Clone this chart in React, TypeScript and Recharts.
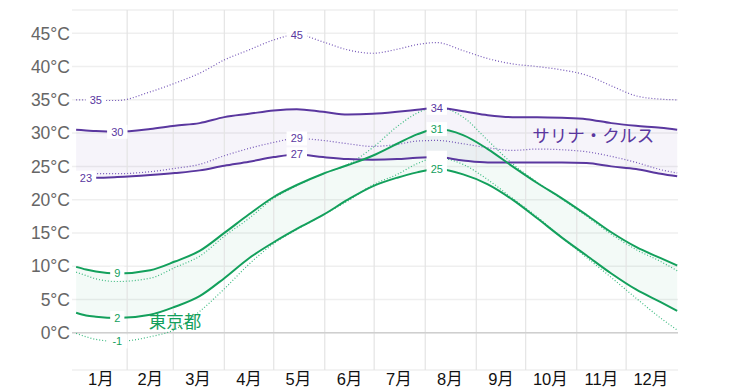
import {
  ComposedChart,
  Area,
  Line,
  XAxis,
  YAxis,
  CartesianGrid,
  ReferenceLine,
  ReferenceDot,
  LabelList,
} from "recharts";

// day of year for each sample
const days = [0, 6, 12, 25, 45, 60, 75, 90, 105, 120, 134, 150, 165, 180, 195, 207, 219, 235, 250, 265, 280, 295, 310, 325, 340, 355, 365];

// サリナ・クルス
const salinaFeelHigh = [35.0, 35.0, 34.9, 34.9, 36.2, 37.5, 39.0, 41.0, 42.5, 44.0, 44.8, 43.7, 42.5, 42.0, 42.6, 43.3, 43.6, 42.4, 41.2, 40.4, 40.0, 39.5, 38.7, 37.1, 35.6, 35.1, 35.0];
const salinaHigh = [30.5, 30.4, 30.3, 30.2, 30.6, 31.1, 31.5, 32.4, 32.9, 33.4, 33.6, 33.2, 32.8, 32.9, 33.2, 33.5, 33.8, 33.3, 32.7, 32.4, 32.4, 32.3, 32.1, 31.5, 31.1, 30.8, 30.5];
const salinaFeelLow = [23.9, 23.9, 23.9, 23.9, 24.2, 24.7, 25.3, 26.6, 27.7, 28.6, 29.2, 28.9, 28.4, 28.0, 28.3, 28.8, 28.9, 28.4, 27.8, 27.4, 27.6, 27.5, 27.2, 26.5, 25.6, 24.5, 24.0];
const salinaLow = [23.4, 23.3, 23.3, 23.4, 23.7, 24.0, 24.4, 25.1, 25.7, 26.4, 26.8, 26.4, 26.1, 26.0, 26.1, 26.3, 26.4, 25.9, 25.6, 25.6, 25.6, 25.6, 25.5, 25.0, 24.6, 23.9, 23.5];

// 東京都
const tokyoFeelHigh = [9.1, 8.6, 8.1, 7.7, 8.2, 9.8, 11.5, 14.5, 17.2, 20.2, 22.1, 23.9, 25.3, 27.8, 31.0, 33.0, 33.9, 32.4, 28.9, 25.4, 22.6, 20.1, 17.5, 14.8, 12.5, 10.7, 9.3];
const tokyoHigh = [9.9, 9.5, 9.2, 8.9, 9.4, 10.7, 12.3, 15.0, 17.8, 20.4, 22.2, 23.9, 25.2, 26.6, 28.4, 29.8, 30.6, 29.7, 27.6, 25.0, 22.5, 20.2, 17.7, 15.1, 12.9, 11.2, 10.1];
const tokyoLow = [3.0, 2.6, 2.4, 2.2, 2.7, 3.9, 5.5, 8.2, 11.2, 13.6, 15.6, 17.7, 20.0, 22.0, 23.3, 24.1, 24.6, 23.8, 22.3, 20.0, 17.2, 14.3, 11.6, 8.9, 6.5, 4.6, 3.3];
const tokyoFeelLow = [-0.1, -0.6, -1.0, -1.3, -0.6, 0.5, 3.2, 6.6, 10.3, 13.4, 15.5, 17.7, 19.8, 22.2, 23.8, 25.4, 26.3, 25.3, 23.0, 20.2, 17.4, 14.3, 11.3, 8.3, 5.2, 2.2, 0.4];

const monthLabels = ["1月", "2月", "3月", "4月", "5月", "6月", "7月", "8月", "9月", "10月", "11月", "12月"];
const monthMids = [15, 45, 74, 105, 135, 166, 196, 227, 258, 288, 319, 349];
const monthStarts = [31, 59, 90, 120, 151, 181, 212, 243, 273, 304, 334];
const yTicks = [0, 5, 10, 15, 20, 25, 30, 35, 40, 45];

const PURPLE = "#5a379f";
const PURPLE_DOT = "#7557b8";
const GREEN = "#13a05c";
const GREEN_DOT = "#3dba80";

const data = days.map((d, i) => ({
  day: d,
  sfh: salinaFeelHigh[i],
  sh: salinaHigh[i],
  sfl: salinaFeelLow[i],
  sl: salinaLow[i],
  tfh: tokyoFeelHigh[i],
  th: tokyoHigh[i],
  tl: tokyoLow[i],
  tfl: tokyoFeelLow[i],
  sBand: [salinaLow[i], salinaHigh[i]],
  tBand: [tokyoLow[i], tokyoHigh[i]],
}));

const makeLabel = (color: string, indices: number[], showText = true) => (props: any) => {
  const { x, y, value, index } = props;
  if (!indices.includes(index)) return null;
  const text = String(Math.round(Number(value)));
  const w = text.length * 6.2 + 8;
  return (
    <g>
      <rect x={x - w / 2} y={y - 7} width={w} height={14} fill="#fff" />
      {showText && (
        <text x={x} y={y} dy="0.36em" textAnchor="middle" fontSize={11} fill={color} fontFamily="Liberation Sans, Arial, sans-serif">
          {text}
        </text>
      )}
    </g>
  );
};

const tickFont = { fontSize: 17.5, fill: "#666", fontFamily: "Liberation Sans, Arial, sans-serif" };

export default function App() {
  return (
    <div style={{ width: 753, height: 392 }}>
      <style>{"body{margin:0}"}</style>
      <ComposedChart width={753} height={392} data={data} margin={{ top: 10, right: 0, bottom: 0, left: 0 }}>
        <CartesianGrid vertical={false} stroke="#efefef" strokeWidth={1.5} />
        {monthStarts.map((m) => (
          <ReferenceLine key={m} x={m} stroke="#e4e4e4" strokeWidth={1.2} />
        ))}
        <ReferenceLine y={0} stroke="#cfcfcf" strokeWidth={1.5} />
        <XAxis
          type="number"
          dataKey="day"
          domain={[-2.5, 365.5]}
          ticks={monthMids}
          tickFormatter={(v: number) => monthLabels[monthMids.indexOf(v)]}
          axisLine={false}
          tickLine={false}
          tickSize={0}
          tickMargin={3}
          height={22}
          interval={0}
          tick={{ fontSize: 16.5, fill: "#111", fontFamily: "Liberation Sans, Noto Sans CJK JP, sans-serif" }}
        />
        <YAxis
          domain={[-5.6, 48.5]}
          ticks={yTicks}
          tickFormatter={(v: number) => `${v}°C`}
          axisLine={false}
          tickLine={false}
          tickSize={0}
          tickMargin={2}
          width={72}
          tick={tickFont}
        />
        <YAxis
          yAxisId="r"
          orientation="right"
          domain={[-5.6, 48.5]}
          ticks={yTicks}
          tickFormatter={(v: number) => `${v}°C`}
          axisLine={false}
          tickLine={false}
          tickSize={0}
          tickMargin={4}
          width={75}
          tick={tickFont}
        />
        <Area dataKey="sBand" type="monotone" stroke="none" fill={PURPLE} fillOpacity={0.055} isAnimationActive={false} />
        <Area dataKey="tBand" type="monotone" stroke="none" fill={GREEN} fillOpacity={0.05} isAnimationActive={false} />

        <Line dataKey="sfh" type="monotone" stroke={PURPLE_DOT} strokeWidth={1.2} strokeDasharray="1 2" dot={false} isAnimationActive={false} />
        <Line dataKey="sfl" type="monotone" stroke={PURPLE_DOT} strokeWidth={1.2} strokeDasharray="1 2" dot={false} isAnimationActive={false} />
        <Line dataKey="tfh" type="monotone" stroke={GREEN_DOT} strokeWidth={1.2} strokeDasharray="1 2" dot={false} isAnimationActive={false} />
        <Line dataKey="tfl" type="monotone" stroke={GREEN_DOT} strokeWidth={1.2} strokeDasharray="1 2" dot={false} isAnimationActive={false} />
        <Line dataKey="sh" type="monotone" stroke={PURPLE} strokeWidth={2} dot={false} isAnimationActive={false} />
        <Line dataKey="sl" type="monotone" stroke={PURPLE} strokeWidth={2} dot={false} isAnimationActive={false} />
        <Line dataKey="th" type="monotone" stroke={GREEN} strokeWidth={2} dot={false} isAnimationActive={false} />
        <Line dataKey="tl" type="monotone" stroke={GREEN} strokeWidth={2} dot={false} isAnimationActive={false} />

        {/* labels drawn on top of every line */}
        <Line dataKey="tfl" stroke="none" dot={false} isAnimationActive={false}>
          <LabelList dataKey="tfl" content={makeLabel(GREEN, [16], false)} />
        </Line>
        <Line dataKey="sfh" stroke="none" dot={false} isAnimationActive={false}>
          <LabelList dataKey="sfh" content={makeLabel(PURPLE, [2, 10])} />
        </Line>
        <Line dataKey="sh" stroke="none" dot={false} isAnimationActive={false}>
          <LabelList dataKey="sh" content={makeLabel(PURPLE, [3, 16])} />
        </Line>
        <Line dataKey="sfl" stroke="none" dot={false} isAnimationActive={false}>
          <LabelList dataKey="sfl" content={makeLabel(PURPLE, [10])} />
        </Line>
        <Line dataKey="sl" stroke="none" dot={false} isAnimationActive={false}>
          <LabelList dataKey="sl" content={makeLabel(PURPLE, [1, 10])} />
        </Line>
        <Line dataKey="th" stroke="none" dot={false} isAnimationActive={false}>
          <LabelList dataKey="th" content={makeLabel(GREEN, [3, 16])} />
        </Line>
        <Line dataKey="tl" stroke="none" dot={false} isAnimationActive={false}>
          <LabelList dataKey="tl" content={makeLabel(GREEN, [3, 16])} />
        </Line>
        <Line dataKey="tfl" stroke="none" dot={false} isAnimationActive={false}>
          <LabelList dataKey="tfl" content={makeLabel(GREEN, [3])} />
        </Line>

        <ReferenceDot
          x={314}
          y={29.6}
          r={0}
          fill="none"
          stroke="none"
          label={{ value: "サリナ・クルス", fill: PURPLE, fontSize: 17.5, fontFamily: "Noto Sans CJK JP, sans-serif", position: "center" }}
        />
        <ReferenceDot
          x={60}
          y={1.6}
          r={0}
          fill="none"
          stroke="none"
          label={{ value: "東京都", fill: GREEN, fontSize: 17.5, fontFamily: "Noto Sans CJK JP, sans-serif", position: "center" }}
        />
      </ComposedChart>
    </div>
  );
}
